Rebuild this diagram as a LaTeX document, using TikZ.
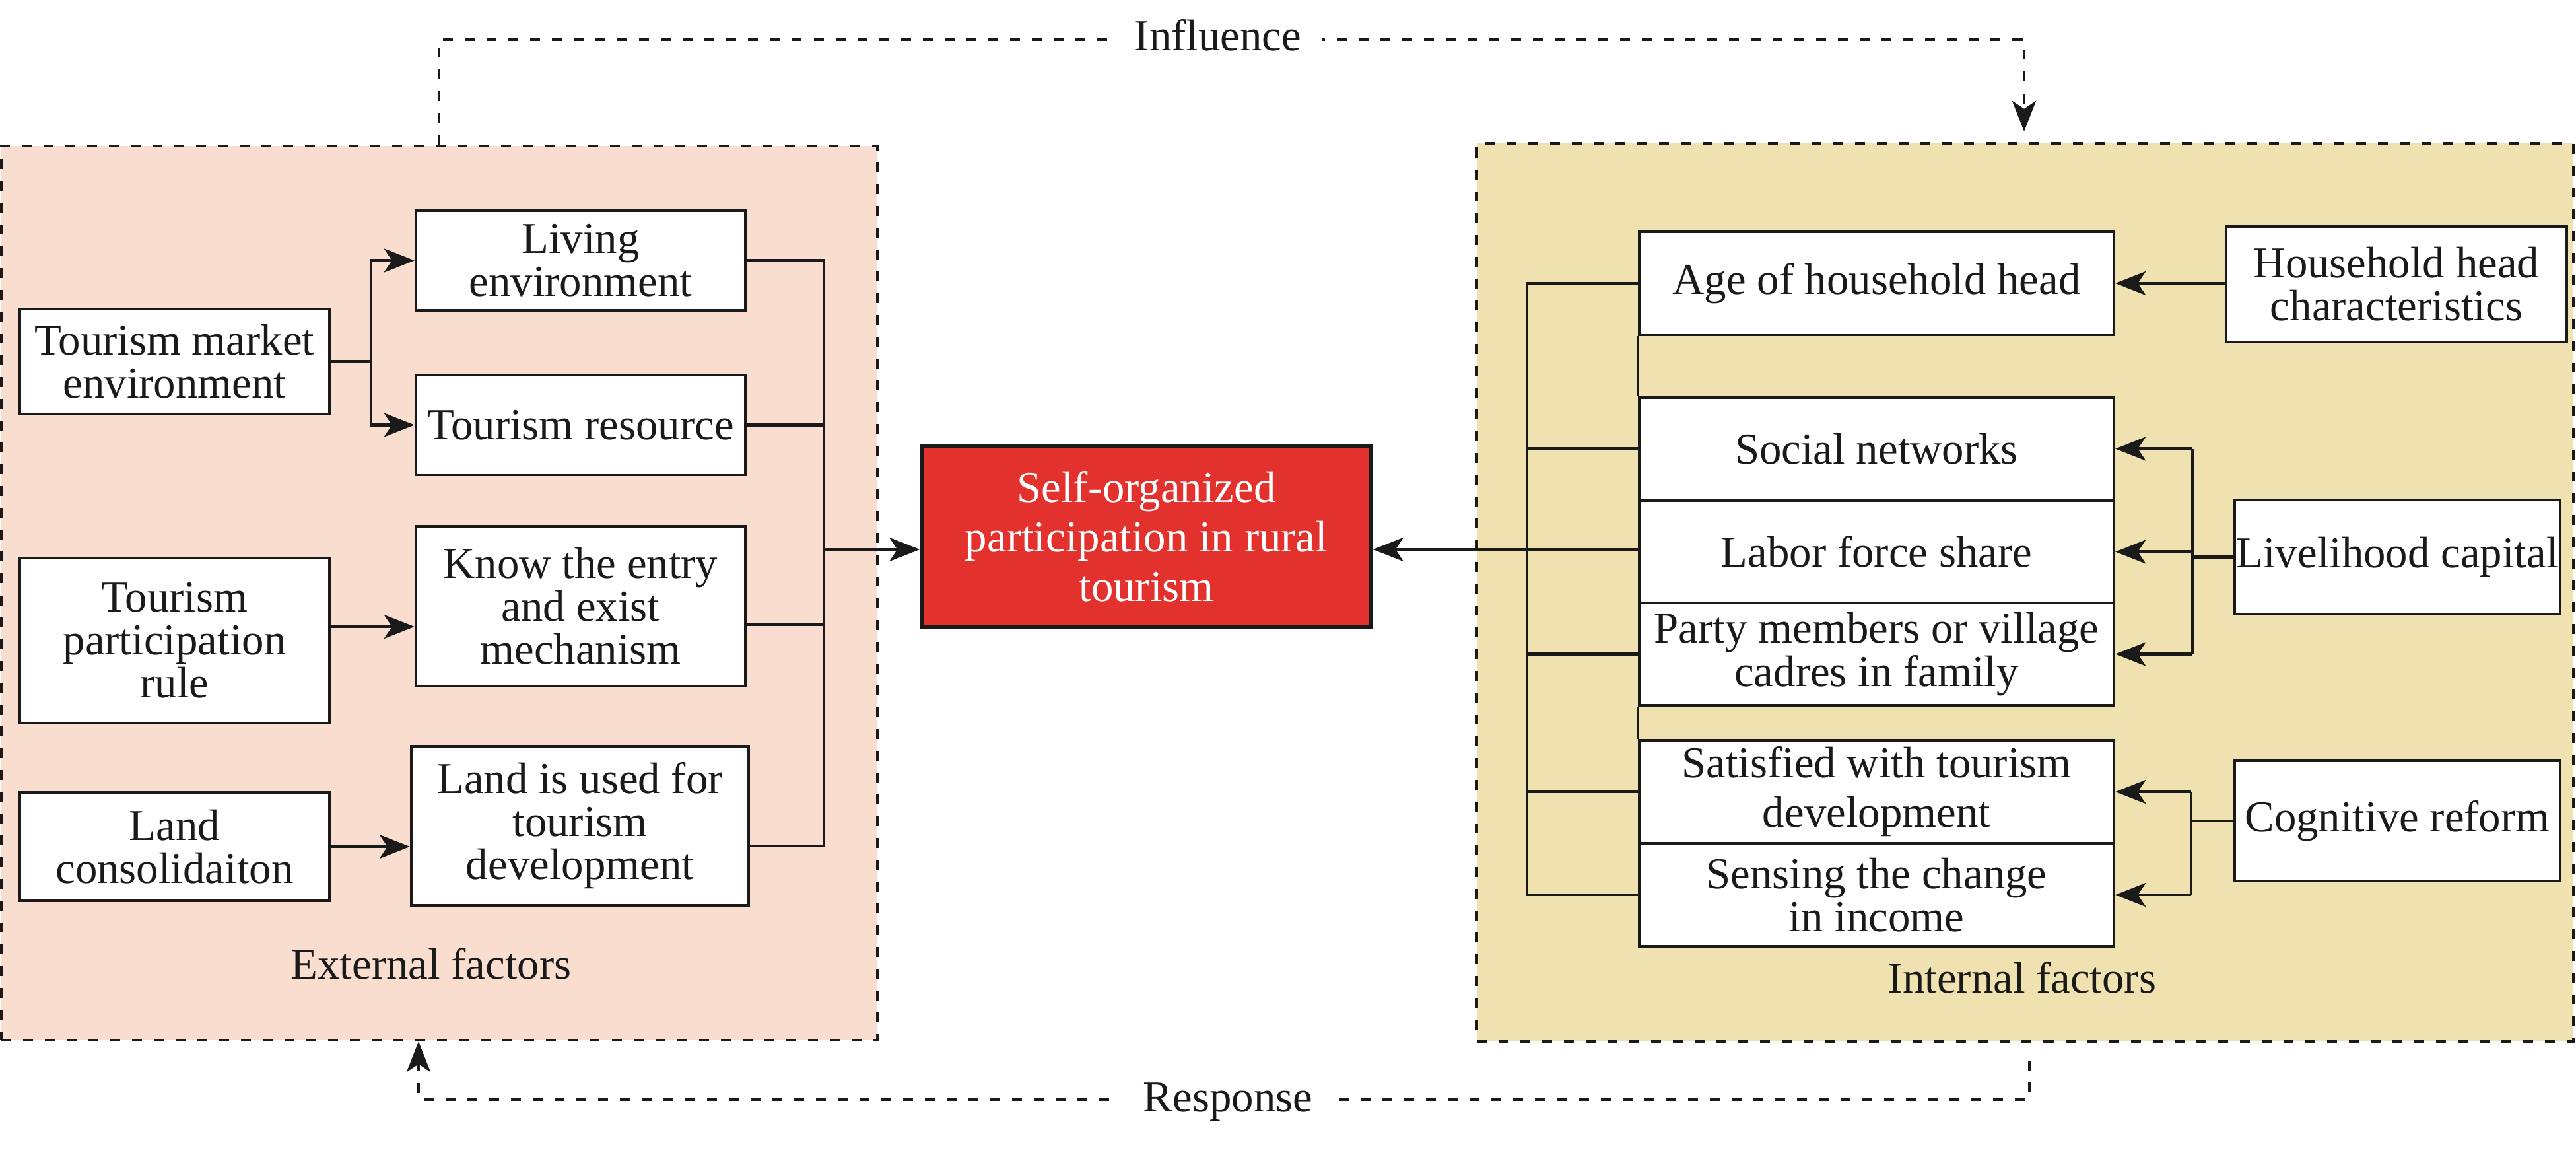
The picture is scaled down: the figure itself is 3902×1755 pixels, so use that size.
\documentclass[tikz,border=0pt]{standalone}
\usepackage{fontspec}
\setmainfont{Liberation Serif}
\usetikzlibrary{arrows.meta}
\definecolor{extfill}{HTML}{F9DECF}
\definecolor{intfill}{HTML}{F0E2B0}
\definecolor{mainred}{HTML}{E3312D}
\definecolor{ink}{HTML}{1A1A1A}
\tikzset{
  box/.style={draw=ink, fill=white, line width=0.045cm, inner sep=0pt, align=center,
    font=\fontsize{19}{18.5}\selectfont, text=ink},
  panel/.style={draw=ink, line width=0.042cm, dash pattern=on 0.15cm off 0.18cm, inner sep=0pt},
  ln/.style={draw=ink, line width=0.042cm},
  arr/.style={ln, -{Stealth[length=0.46cm,width=0.36cm,inset=0.12cm]}},
  darr/.style={arr, line width=0.042cm, dash pattern=on 0.15cm off 0.18cm},
  lbl/.style={font=\fontsize{19}{19}\selectfont, text=ink, inner sep=0pt},
}
\newcommand\mkbox[7][]{\node[box,#1,minimum width={(#5-#3)*0.01cm},minimum height={(#6-#4)*0.01cm}] (#2) at ({(#3+#5)/2},{(#4+#6)/2}) {#7};}
\begin{document}
\begin{tikzpicture}[x=0.01cm,y=-0.01cm]
\useasboundingbox (0,0) rectangle (3902,1755);
% panels
\mkbox[panel,fill=extfill]{extp}{2}{221}{1329}{1575}{}
\mkbox[panel,fill=intfill]{intp}{2237}{217}{3898}{1577}{}
% left boxes
\mkbox{tme}{30}{468}{499}{627}{Tourism market\\environment}
\mkbox{living}{630}{319}{1129}{470}{Living\\environment}
\mkbox{tres}{630}{568}{1129}{719}{Tourism resource}
\mkbox{tpr}{30}{845}{499}{1095}{Tourism\\participation\\rule}
\mkbox{know}{630}{797}{1129}{1039}{Know the entry\\and exist\\mechanism}
\mkbox{landc}{30}{1200}{499}{1364}{Land\\consolidaiton}
\mkbox{landu}{623}{1130}{1134}{1371}{Land is used for\\tourism\\development}
% center
\mkbox[fill=mainred,text=white,line width=0.055cm,font=\fontsize{19}{21.3}\selectfont]{core}{1396}{676}{2077}{949}{Self-organized\\participation in rural\\tourism}
% right boxes
\mkbox{age}{2483}{351}{3202}{507}{Age of household head}
\mkbox{social}{2483}{602}{3202}{757}{Social networks}
\mkbox{labor}{2483}{758}{3202}{913}{Labor force share}
\mkbox{party}{2483}{913}{3202}{1068}{Party members or village\\cadres in family}
\mkbox[font=\fontsize{19}{21.3}\selectfont]{satis}{2483}{1121}{3202}{1277}{Satisfied with tourism\\development}
\mkbox{sensing}{2483}{1277}{3202}{1433}{Sensing the change\\in income}
\mkbox{hhc}{3372}{343}{3888}{518}{Household head\\characteristics}
\mkbox{liveli}{3385}{757}{3878}{930}{Livelihood capital}
\mkbox{cogn}{3385}{1152}{3878}{1334}{Cognitive reform}
% panel labels
\node[lbl,anchor=base] (extl) at (653,1482) {External factors};
\node[lbl,anchor=base] (intl) at (3063,1503) {Internal factors};
% left connectors
\draw[ln] (tme.east) -- (562,0 |- tme.east);
\draw[arr] (562,0 |- tme.east) |- (living.west);
\draw[arr] (562,0 |- tme.east) |- (tres.west);
\draw[arr] (tpr.east |- 0,949) -- (know.west |- 0,949);
\draw[arr] (landc.east) -- (landu.west |- landc.east);
\draw[ln] (living.east) -- (1248,0 |- living.east) -- (1248,1281) -- (landu.east |- 0,1281);
\draw[ln] (tres.east) -- (1248,0 |- tres.east);
\draw[ln] (know.east |- 0,946) -- (1248,946);
\draw[arr] (1248,832) -- (core.west |- 0,832);
% right connectors
\draw[arr] (labor.west |- 0,832) -- (core.east |- 0,832);
\draw[ln] (age.west) -- (2313,0 |- age.west) -- (2313,0 |- sensing.west) -- (sensing.west);
\draw[ln] (social.west) -- (2313,0 |- social.west);
\draw[ln] (party.west) -- (2313,0 |- party.west);
\draw[ln] (satis.west) -- (2313,0 |- satis.west);
\draw[ln] (age.south west) -- (social.north west);
\draw[ln] (party.south west) -- (satis.north west);
\draw[arr] (hhc.west |- age.east) -- (age.east);
\draw[ln] (liveli.west) -- (3321,0 |- liveli.west);
\draw[arr] (3321,0 |- social.east) -- (social.east);
\draw[arr] (3321,0 |- labor.east) -- (labor.east);
\draw[arr] (3321,0 |- party.east) -- (party.east);
\draw[ln] (3321,0 |- social.east) -- (3321,0 |- party.east);
\draw[ln] (cogn.west) -- (3319,0 |- cogn.west);
\draw[ln] (3319,0 |- satis.east) -- (3319,0 |- sensing.east);
\draw[arr] (3319,0 |- satis.east) -- (satis.east);
\draw[arr] (3319,0 |- sensing.east) -- (sensing.east);
% feedback loops
\draw[darr, shorten >=0.16cm] (665,0 |- extp.north) -- (665,60) -- (3066,60) -- (3066,0 |- intp.north);
\node[lbl,anchor=base,fill=white,inner xsep=0.32cm,inner ysep=0.06cm] (infl) at (1845,77) {Influence};
\draw[darr, shorten <=0.27cm] (3074,0 |- intp.south) -- (3074,1665) -- (634,1665) -- (634,0 |- extp.south);
\node[lbl,anchor=base,fill=white,inner xsep=0.36cm,inner ysep=0.06cm] (resp) at (1860,1683) {Response};
\end{tikzpicture}
\end{document}
